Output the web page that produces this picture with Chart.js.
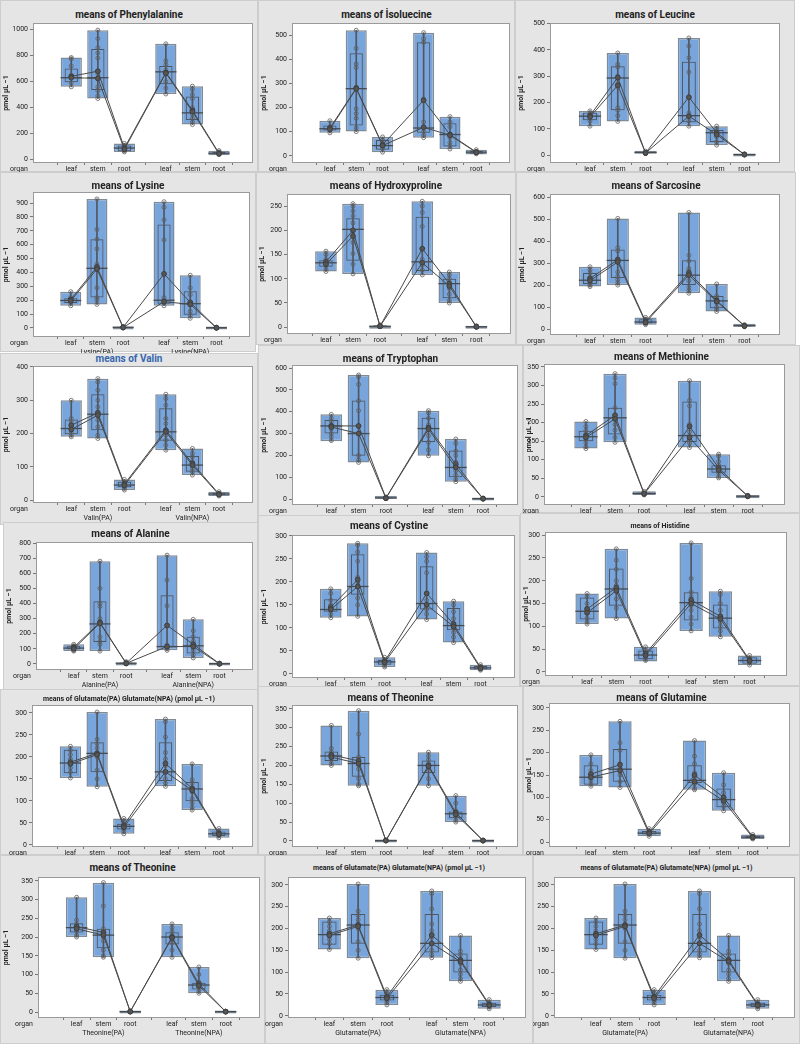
<!DOCTYPE html>
<html>
<head>
<meta charset="utf-8">
<script src="https://cdn.jsdelivr.net/npm/chart.js@4.4.1/dist/chart.umd.min.js"></script>
<style>
  body { margin: 0; width: 800px; height: 1044px; position: relative; overflow: hidden; background: #fff;
         font-family: 'Liberation Sans Narrow', 'Roboto', sans-serif; }
  .panel { position: absolute; background: #e5e5e5; border: 1px solid #cdcdcd; box-sizing: border-box; overflow: visible; }
  .panel .ttl { position: absolute; left: 0; right: 0; text-align: center; color: #222; white-space: nowrap; }
  .panel canvas { position: absolute; left: -1px; top: -1px; }
</style>
</head>
<body>
<script>
// ---- data: PA leaf, stem, root, NPA leaf, stem, root ----
const organs = ['leaf', 'stem', 'root', 'leaf', 'stem', 'root'];
const acids = ['Phenylalanine', 'Isoleucine', 'Leucine', 'Lysine', 'Hydroxyproline', 'Sarcosine', 'Valin',
  'Tryptophan', 'Methionine', 'Alanine', 'Cystine', 'Histidine', 'Glutamate', 'Theonine', 'Glutamine'];

const boxMin = [
  [560, 470, 60, 505, 270, 35], [95, 100, 15, 75, 28, 5], [110, 128, 5, 110, 38, 0], [160, 170, 0, 160, 70, 0],
  [115, 110, 0, 108, 50, 0], [193, 200, 20, 163, 80, 10], [190, 185, 30, 150, 75, 12], [265, 168, 2, 198, 80, 0],
  [130, 147, 5, 133, 51, 0], [85, 85, 0, 90, 40, 0], [122, 125, 15, 118, 68, 8], [105, 117, 23, 90, 77, 15],
  [152, 132, 25, 133, 79, 16], [200, 146, 0, 146, 50, 0], [125, 122, 13, 117, 70, 7]
];
const boxMax = [
  [785, 995, 125, 890, 565, 70], [145, 520, 78, 510, 162, 25], [168, 388, 15, 445, 110, 5], [262, 930, 12, 910, 380, 5],
  [157, 255, 5, 260, 114, 3], [283, 503, 53, 530, 205, 20], [300, 365, 62, 318, 155, 25], [388, 568, 10, 405, 275, 5],
  [203, 332, 15, 313, 115, 4], [130, 680, 15, 720, 295, 5], [185, 284, 36, 264, 158, 20], [172, 270, 55, 283, 177, 36],
  [224, 302, 60, 286, 184, 37], [306, 345, 3, 235, 120, 2], [195, 270, 30, 227, 155, 17]
];
const q1 = [
  [595, 535, 65, 580, 305, 40], [105, 125, 25, 95, 38, 8], [132, 170, 7, 125, 50, 1], [180, 220, 2, 175, 95, 0],
  [125, 137, 1, 116, 60, 0], [205, 232, 25, 200, 95, 12], [198, 210, 38, 178, 85, 14], [300, 198, 3, 262, 100, 1],
  [150, 168, 7, 148, 65, 1], [95, 145, 2, 110, 70, 0], [135, 172, 20, 140, 95, 10], [115, 145, 28, 113, 95, 18],
  [163, 165, 35, 145, 99, 20], [212, 170, 1, 180, 60, 0], [128, 135, 17, 132, 78, 9]
];
const q3 = [
  [700, 850, 110, 720, 485, 60], [125, 425, 65, 470, 135, 20], [162, 338, 12, 355, 95, 3], [215, 640, 8, 745, 265, 3],
  [138, 225, 4, 228, 100, 2], [255, 362, 45, 313, 150, 18], [242, 318, 55, 276, 132, 22], [362, 452, 7, 372, 222, 3],
  [178, 240, 12, 257, 85, 3], [120, 415, 10, 455, 180, 3], [162, 260, 30, 234, 143, 17], [163, 227, 47, 175, 148, 32],
  [216, 233, 48, 233, 143, 30], [237, 222, 2, 213, 78, 1], [172, 208, 25, 172, 120, 14]
];
const medians = [
  [630, 630, 90, 675, 360, 50], [112, 278, 42, 115, 88, 15], [148, 293, 10, 150, 85, 2], [198, 430, 5, 200, 175, 2],
  [133, 202, 2, 135, 90, 1], [222, 312, 32, 245, 128, 15], [215, 258, 45, 205, 105, 18], [335, 300, 5, 323, 145, 2],
  [162, 213, 9, 165, 75, 2], [105, 265, 5, 115, 120, 2], [140, 190, 26, 153, 105, 13], [133, 182, 37, 152, 118, 25],
  [186, 208, 42, 166, 127, 25], [225, 205, 1, 200, 72, 1], [145, 163, 20, 138, 95, 11]
];
const meanA = [
  [640, 680, 90, 670, 380, 50], [115, 280, 45, 230, 88, 15], [150, 295, 8, 220, 85, 2], [205, 440, 5, 390, 185, 2],
  [135, 200, 2, 162, 90, 1], [230, 315, 35, 255, 130, 15], [225, 262, 48, 210, 110, 18], [335, 335, 5, 328, 160, 2],
  [165, 220, 9, 190, 78, 2], [110, 275, 5, 255, 130, 2], [145, 205, 27, 175, 108, 14], [138, 185, 40, 158, 122, 26],
  [188, 208, 44, 185, 128, 26], [228, 212, 1, 200, 75, 1], [152, 173, 22, 150, 100, 12]
];
const meanB = [
  [630, 625, 80, 665, 370, 45], [110, 278, 42, 118, 85, 14], [145, 265, 8, 148, 78, 2], [195, 425, 3, 190, 170, 1],
  [130, 188, 2, 133, 85, 1], [220, 305, 30, 245, 125, 14], [212, 255, 44, 205, 105, 16], [330, 300, 4, 320, 145, 2],
  [160, 210, 8, 160, 72, 2], [100, 270, 4, 115, 115, 1], [140, 190, 25, 150, 103, 12], [130, 178, 36, 150, 116, 24],
  [184, 205, 40, 166, 124, 24], [222, 205, 1, 198, 70, 1], [145, 160, 19, 135, 92, 10]
];
const points = [
  [[785,775,720,650,640,630,590,560],[995,930,860,820,780,680,660,620,560,530,490,470],[125,110,95,85,70,60],[890,760,730,690,670,660,600,550,505],[565,540,500,470,400,380,350,320,290,270],[70,60,50,45,40]],
  [[145,120,115,110,105,95],[520,445,380,365,285,275,195,175,155,115,100],[78,65,50,40,30,15],[510,485,470,235,140,120,100,85,75],[162,140,120,90,75,55,40,28],[25,18,12,8]],
  [[168,160,150,145,130,110],[388,345,335,300,290,270,260,180,170,150,128],[15,10,8,6],[445,415,370,315,220,160,148,130,110],[110,100,90,80,70,50,38],[5,3,1]],
  [[262,220,205,195,180,160],[930,710,640,570,460,440,420,290,220,200,170],[12,6,3,0],[910,870,780,635,390,220,200,180,160],[380,290,240,180,170,120,90,70],[5,2,0]],
  [[157,150,140,135,128,120,115],[255,250,240,230,215,200,190,175,152,130,110],[5,3,1],[260,250,237,208,162,140,135,128,118,108],[114,108,100,92,85,80,68,55,50],[3,1,0]],
  [[283,270,255,235,220,210,200,193],[503,370,355,320,310,260,240,225,210,200],[53,45,38,30,25,20],[530,335,310,275,265,245,220,190,175,163],[205,150,140,130,120,100,90,80],[20,15,12,10]],
  [[300,245,235,225,215,205,195,190],[365,355,330,300,280,265,255,240,220,195,185],[62,55,50,45,40,35,30],[318,305,285,245,230,210,195,180,165,150],[155,140,130,115,105,95,85,75],[25,20,16,12]],
  [[388,370,355,340,330,320,300,285,268],[568,560,525,450,405,335,300,200,180,168],[10,5,2],[405,395,370,340,320,290,260,225,198],[275,255,220,200,170,150,130,110,90,80],[5,2,0]],
  [[203,190,180,170,162,155,145,135,130],[332,320,305,240,220,210,195,180,160,147],[15,10,7,5],[313,260,245,195,175,165,155,145,133],[115,110,95,85,80,75,65,55,51],[4,2,0]],
  [[130,120,110,100,90,85],[680,500,400,380,300,280,260,180,150,130,85],[15,8,3,0],[720,555,385,255,125,110,100,90],[295,220,180,150,120,90,60,40],[5,2,0]],
  [[185,175,160,150,142,138,130,122],[284,280,265,245,210,200,190,165,150,125],[36,30,26,22,18,15],[264,255,245,220,175,160,150,140,130,118],[158,150,135,120,110,100,90,80,68],[20,16,13,10,8]],
  [[172,165,150,140,135,128,118,110,105],[270,245,225,200,190,180,160,140,117],[55,48,42,37,30,25],[283,205,175,165,155,145,135,120,105,90],[177,170,150,135,120,110,100,90,77],[36,30,25,20,15]],
  [[224,215,205,195,185,175,165,152],[302,240,230,220,210,200,170,150,132],[60,52,45,40,35,30,25],[286,280,245,210,195,180,165,150,140,133],[184,148,140,130,120,105,95,85,79],[37,30,25,20,16]],
  [[306,245,235,228,222,215,205,200],[345,283,222,215,210,200,190,165,150,146],[3,1],[235,225,215,205,200,195,185,165,146],[120,100,80,75,70,65,55,50],[2,0]],
  [[195,175,160,150,145,138,130,125],[270,222,205,175,165,150,135,122],[30,25,21,18,13],[227,192,175,155,145,138,130,120,117],[155,128,110,100,95,88,80,70],[17,13,10,7]]
];

// y axis: top tick, step, and visible range
const yTopTick = [1000, 500, 500, 900, 250, 600, 400, 600, 350, 800, 300, 300, 300, 350, 300];
const yStep = [200, 100, 100, 100, 50, 100, 100, 100, 50, 100, 50, 50, 50, 50, 50];
const yRange = [[-25, 1050], [-30, 550], [-30, 502], [-65, 980], [-14, 275], [-27, 614], [-9, 403], [-27, 614],
  [-22, 358], [-40, 807], [-9, 302], [-9, 307], [-5, 318], [-16, 360], [-11, 311]];

// panels of the collage
const gluTitle = 'means of Glutamate(PA) Glutamate(NPA) (pmol µL −1)';
const panelAcid = [0, 1, 2, 3, 4, 5, 6, 7, 8, 9, 10, 11, 12, 13, 14, 13, 12, 12];
const panelTitle = ['means of Phenylalanine', 'means of İsoluecine', 'means of Leucine', 'means of Lysine',
  'means of Hydroxyproline', 'means of Sarcosine', 'means of Valin', 'means of Tryptophan', 'means of Methionine',
  'means of Alanine', 'means of Cystine', 'means of Histidine', gluTitle, 'means of Theonine', 'means of Glutamine',
  'means of Theonine', gluTitle, gluTitle];
const panelGroups = [null, null, null, ['Lysine(PA)', 'Lysine(NPA)'], null, null, ['Valin(PA)', 'Valin(NPA)'],
  ['Tryptophan(PA)', 'Tryptophan(NPA)'], null, ['Alanine(PA)', 'Alanine(NPA)'], null, null, null, null, null,
  ['Theonine(PA)', 'Theonine(NPA)'], ['Glutamate(PA)', 'Glutamate(NPA)'], ['Glutamate(PA)', 'Glutamate(NPA)']];

// layout (page pixels): panel box, plot area, title centre
const xPos = [0, 1, 2, 3.56, 4.56, 5.56];
const panelBox = [
  [0, 0, 258, 172], [258, 0, 257, 172], [515, 0, 280, 172],
  [0, 172, 256, 180], [256, 172, 260, 173], [516, 172, 280, 173],
  [0, 353, 258, 172], [258, 345, 265, 177], [523, 345, 277, 168],
  [3, 522, 255, 168], [258, 515, 262, 173], [520, 513, 280, 173],
  [0, 689, 258, 166], [258, 686, 265, 169], [523, 686, 277, 169],
  [0, 855, 265, 189], [265, 855, 268, 189], [533, 855, 267, 189]
];
const plotBox = [
  [33, 23, 253, 163], [292, 23, 512, 163], [550, 23, 780, 163],
  [33, 192, 250, 337], [287, 194, 513, 334], [550, 194, 780, 335],
  [33, 366, 254, 503], [292, 365, 520, 505], [544, 364, 785, 505],
  [36, 542, 254, 670], [292, 535, 518, 678], [545, 532, 787, 676],
  [32, 705, 255, 847], [292, 705, 520, 847], [549, 703, 790, 847],
  [38, 877, 262, 1018], [288, 877, 526, 1018], [554, 877, 795, 1018]
];
const titleY = [14, 14, 14, 185, 185, 185, 358, 358, 356, 533, 525, 525, 698, 697, 697, 867, 867, 867];

const FONT = "'Liberation Sans Narrow', 'Roboto', sans-serif";
const BOX_FILL = '#78a5dc';
const INK = '#4f5660';

const framePlugin = {
  id: 'frame',
  beforeDraw(chart) {
    const a = chart.chartArea, ctx = chart.ctx;
    ctx.save();
    ctx.fillStyle = '#fff';
    ctx.fillRect(a.left, a.top, a.right - a.left, a.bottom - a.top);
    ctx.restore();
  },
  afterDraw(chart) {
    const a = chart.chartArea, ctx = chart.ctx;
    ctx.save();
    ctx.strokeStyle = '#9a9a9a';
    ctx.lineWidth = 1;
    ctx.strokeRect(a.left + 0.5, a.top + 0.5, a.right - a.left - 1, a.bottom - a.top - 1);
    ctx.fillStyle = '#222';
    ctx.font = '7px ' + FONT;
    ctx.textAlign = 'center';
    ctx.textBaseline = 'middle';
    ctx.fillText('organ', a.left - 14, chart.scales.x.top + 6);
    ctx.restore();
  }
};

function halfBox(ctx) {
  const s = ctx.chart.scales.x;
  return Math.abs(s.getPixelForValue(0.4) - s.getPixelForValue(0));
}

function buildPanel(i) {
  const a = panelAcid[i];
  const [x, y, w, h] = panelBox[i];
  const [l, t, r, b] = plotBox[i];
  const small = panelTitle[i].length > 30 || i === 11;
  const groups = panelGroups[i];
  // canvas may run past the panel so the tick labels are never clipped
  const ch = Math.max(h, b - y + (groups ? 22 : 13));

  const div = document.createElement('div');
  div.className = 'panel';
  Object.assign(div.style, { left: x + 'px', top: y + 'px', width: w + 'px', height: h + 'px' });
  const ttl = document.createElement('div');
  ttl.className = 'ttl';
  ttl.textContent = panelTitle[i];
  const fs = small ? 7 : 10;
  Object.assign(ttl.style, { top: (titleY[i] - y - fs * 0.6) + 'px', fontSize: fs + 'px',
    fontWeight: 'bold', color: i === 6 ? '#3567ad' : '#222' });
  div.appendChild(ttl);
  const canvas = document.createElement('canvas');
  canvas.width = w; canvas.height = ch;
  canvas.style.width = w + 'px'; canvas.style.height = ch + 'px';
  div.appendChild(canvas);
  document.body.appendChild(div);

  const at = (arr) => arr.map((v, k) => ({ x: xPos[k], y: v }));
  const pts = [];
  points[a].forEach((list, k) => list.forEach(v => pts.push({ x: xPos[k], y: v })));

  new Chart(canvas, {
    type: 'bar',
    data: {
      datasets: [
        { label: 'range', data: boxMin[a].map((v, k) => ({ x: xPos[k], y: [v, boxMax[a][k]] })),
          backgroundColor: BOX_FILL, borderColor: '#808b98', borderWidth: 1.5, borderSkipped: false,
          grouped: false, categoryPercentage: 1, barPercentage: 0.8, minBarLength: 3, order: 6 },
        { label: 'IQR', data: q1[a].map((v, k) => ({ x: xPos[k], y: [v, q3[a][k]] })),
          backgroundColor: 'rgba(0,0,0,0)', borderColor: INK, borderWidth: 1, borderSkipped: false,
          grouped: false, categoryPercentage: 1, barPercentage: 0.5, order: 5 },
        { label: 'whisker', data: boxMin[a].map((v, k) => ({ x: xPos[k], y: [v, boxMax[a][k]] })),
          backgroundColor: INK, borderWidth: 0, grouped: false, barThickness: 1, order: 4 },
        { type: 'scatter', label: 'median', data: at(medians[a]), pointStyle: 'line',
          radius: halfBox, borderColor: '#454b52', borderWidth: 1.3, order: 3 },
        { type: 'scatter', label: 'values', data: pts, pointStyle: 'circle', radius: 2,
          borderColor: '#5d5d5d', backgroundColor: 'rgba(0,0,0,0)', borderWidth: 0.8, order: 2 },
        { type: 'line', label: 'mean A', data: at(meanA[a]), borderColor: '#4a4a4a', borderWidth: 1,
          pointRadius: 2.4, pointBackgroundColor: '#555', pointBorderColor: '#3f3f3f', tension: 0, order: 1 },
        { type: 'line', label: 'mean B', data: at(meanB[a]), borderColor: '#4a4a4a', borderWidth: 1,
          pointRadius: 2.4, pointBackgroundColor: '#555', pointBorderColor: '#3f3f3f', tension: 0, order: 0 }
      ]
    },
    options: {
      responsive: false,
      animation: false,
      events: [],
      layout: { padding: { left: 2, top: t - y, right: x + w - r, bottom: 1 } },
      plugins: { legend: { display: false }, tooltip: { enabled: false }, title: { display: false } },
      scales: {
        x: {
          type: 'linear', min: -0.75, max: 6.15,
          grid: { drawOnChartArea: false, tickLength: 2, color: '#777' },
          border: { display: false },
          afterBuildTicks: s => { s.ticks = xPos.map(v => ({ value: v })); },
          afterFit: s => { s.height = y + ch - b - 1; },
          ticks: {
            autoSkip: false, maxRotation: 0, padding: 0, color: '#222',
            font: { family: FONT, size: 7, lineHeight: 1.25 },
            callback: (v, k) => {
              if (groups && k === 1) return ['stem', groups[0]];
              if (groups && k === 4) return ['stem', groups[1]];
              return organs[k];
            }
          }
        },
        y: {
          min: yRange[a][0], max: yRange[a][1],
          grid: { drawOnChartArea: false, tickLength: 3, color: '#777' },
          border: { display: false },
          afterBuildTicks: s => {
            const list = [];
            for (let v = 0; v <= yTopTick[a]; v += yStep[a]) list.push({ value: v });
            s.ticks = list;
          },
          afterFit: s => { s.width = l - x - 2; },
          title: { display: a !== 12, text: 'pmol µL −1', color: '#222', padding: 0,
            font: { family: FONT, size: 7, weight: 'bold' } },
          ticks: { color: '#222', padding: 2, font: { family: FONT, size: 7 }, callback: v => String(v) }
        }
      }
    },
    plugins: [framePlugin]
  });
}

panelBox.forEach((_, i) => buildPanel(i));
</script>
</body>
</html>
